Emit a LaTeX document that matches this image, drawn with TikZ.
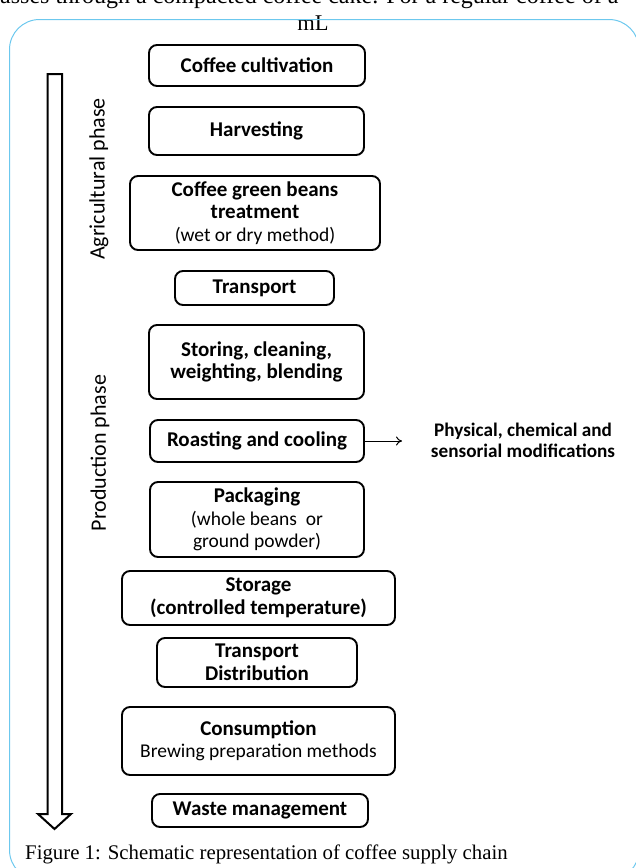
\documentclass[tikz,border=0pt]{standalone}
\usepackage{fontspec}
\setmainfont{Liberation Serif}
\newfontfamily\calfont{Carlito}
\usetikzlibrary{arrows.meta}
\definecolor{frameblue}{HTML}{6CC8EE}
\begin{document}
\begin{tikzpicture}[x=1pt,y=-1pt,
  box/.style={draw, line width=1.9pt, rounded corners=8pt, inner sep=0pt, align=center,
    font=\calfont\bfseries\fontsize{21}{22.5}\selectfont},
  phase/.style={rotate=90, font=\calfont\fontsize{22}{24}\selectfont},
  bodytext/.style={inner sep=0pt, font=\fontsize{22.5}{24}\selectfont}]
\useasboundingbox (0,0) rectangle (635,868);
% page text
\node[bodytext, anchor=base west, font=\fontsize{24}{26}\selectfont] (top) at (-12,3) {passes through a compacted coffee cake. For a regular coffee of a};
\node[bodytext, anchor=base] (ml) at (313,30) {mL};
% frame
\draw[frameblue, line width=1pt, rounded corners=30pt] (9.5,19.5) rectangle (639,880);
% big hollow arrow
\draw[line width=2pt, line join=miter] (47.5,74) -- (62,74) -- (62,814) -- (71,814) -- (54.5,829) -- (38,814) -- (47.5,814) -- cycle;
% phase labels
\node[phase] (agri) at (99,179) {Agricultural phase};
\node[phase] (prod) at (100,453) {Production phase};
% boxes
\node[box, minimum width=216, minimum height=41] (cult) at (257,65.5) {Coffee cultivation};
\node[box, minimum width=215, minimum height=48] (harv) at (256.5,131) {Harvesting};
\node[box, minimum width=250, minimum height=74] (treat) at (255,213) {Coffee green beans\\ treatment\\ {\mdseries\fontsize{19.5}{22.5}\selectfont (wet or dry method)}};
\node[box, minimum width=159, minimum height=34] (trans) at (254.5,288) {Transport};
\node[box, minimum width=215, minimum height=74] (stor) at (256.5,362) {Storing, cleaning,\\ weighting, blending};
\node[box, minimum width=214, minimum height=42] (roast) at (257,441) {Roasting and cooling};
\node[box, minimum width=214, minimum height=75] (pack) at (257,519.5) {Packaging\\ {\mdseries\fontsize{19.5}{22.5}\selectfont (whole beans\ \ or}\\ {\mdseries\fontsize{19.5}{22.5}\selectfont ground powder)}};
\node[box, minimum width=273, minimum height=54] (storage) at (258.5,598) {Storage\\ (controlled temperature)};
\node[box, minimum width=200, minimum height=49] (dist) at (257,662.5) {Transport\\ Distribution};
\node[box, minimum width=273, minimum height=68] (cons) at (258.5,741) {Consumption\\ {\mdseries\fontsize{19.5}{22.5}\selectfont Brewing preparation methods}};
\node[box, minimum width=216, minimum height=33] (waste) at (260,810.5) {Waste management};
% side note
\node[align=center, inner sep=0pt, font=\calfont\bfseries\fontsize{19.2}{21}\selectfont] (phys) at (523,440.5) {Physical, chemical and\\ sensorial modifications};
\coordinate (arrend) at (402,441);
\draw[line width=1pt, -{To[length=6pt,width=9pt]}] (roast.east) -- (arrend);
% caption
\node[bodytext, anchor=base west, font=\fontsize{20.8}{23}\selectfont] (cap) at (25,859) {Figure 1: Schematic representation of coffee supply chain};
\end{tikzpicture}
\end{document}
